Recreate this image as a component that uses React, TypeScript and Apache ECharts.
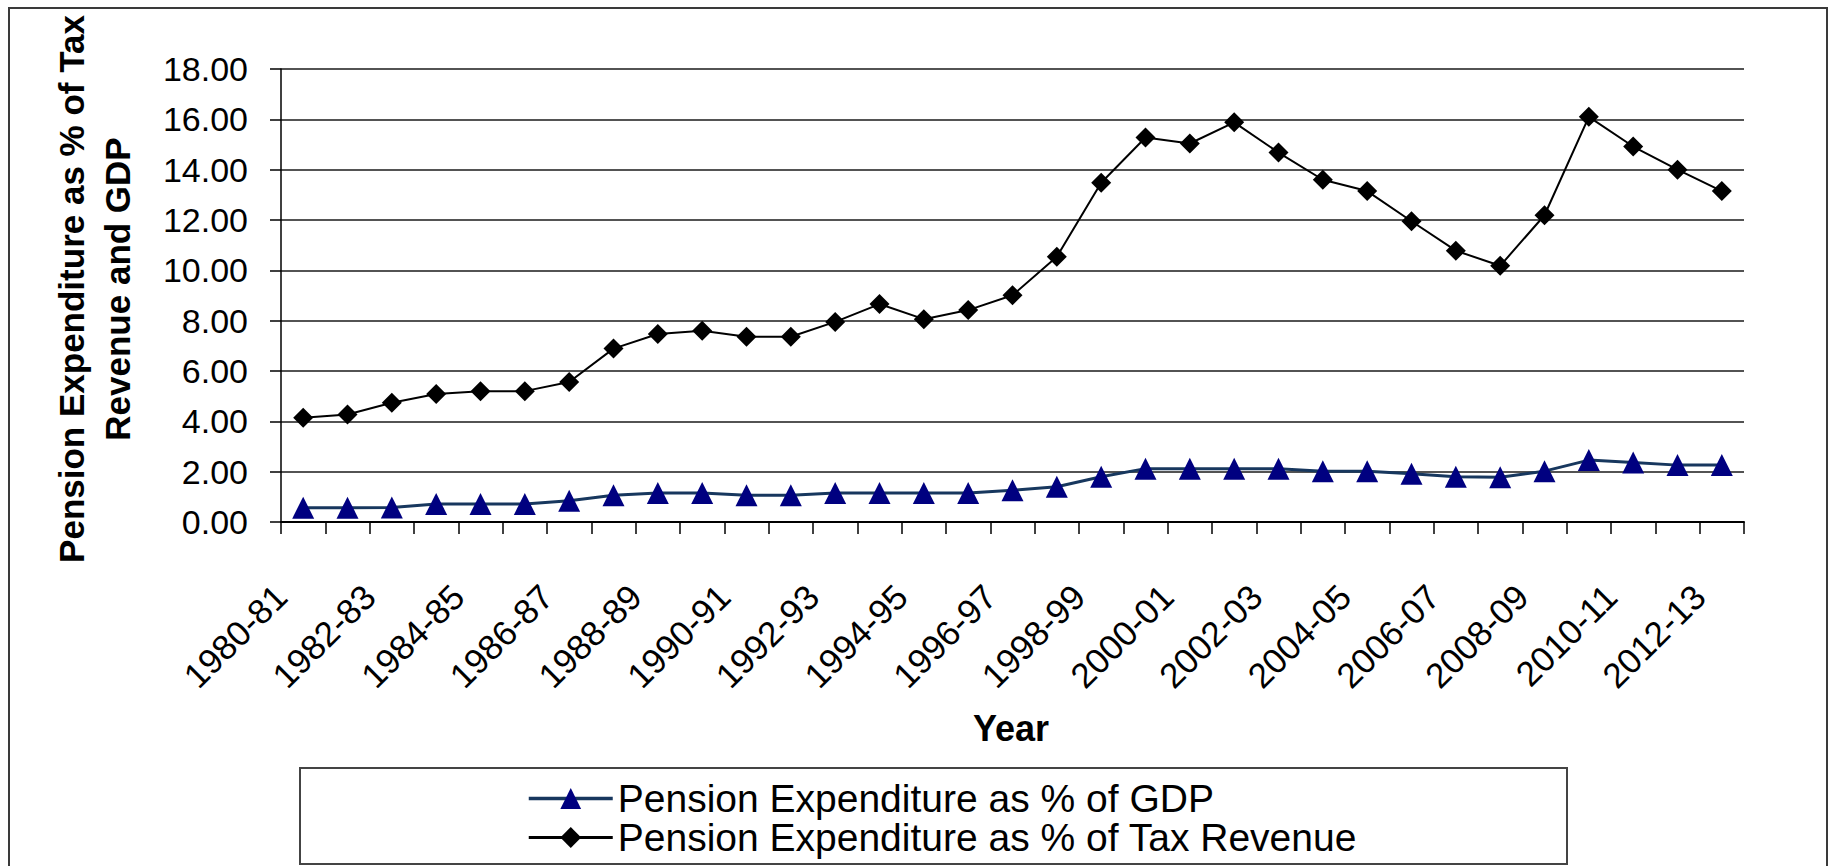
import React, { useEffect, useRef } from "react";
import * as echarts from "echarts";

const years = [
  "1980-81", "1981-82", "1982-83", "1983-84", "1984-85", "1985-86", "1986-87",
  "1987-88", "1988-89", "1989-90", "1990-91", "1991-92", "1992-93", "1993-94",
  "1994-95", "1995-96", "1996-97", "1997-98", "1998-99", "1999-00", "2000-01",
  "2001-02", "2002-03", "2003-04", "2004-05", "2005-06", "2006-07", "2007-08",
  "2008-09", "2009-10", "2010-11", "2011-12", "2012-13",
];

const gdpPct = [
  0.57, 0.57, 0.58, 0.72, 0.72, 0.72, 0.84, 1.06, 1.15, 1.15, 1.06, 1.06,
  1.15, 1.15, 1.15, 1.15, 1.26, 1.4, 1.8, 2.12, 2.12, 2.12, 2.12, 2.02,
  2.02, 1.92, 1.8, 1.78, 2.02, 2.46, 2.36, 2.26, 2.26,
];

const taxPct = [
  4.14, 4.27, 4.74, 5.09, 5.2, 5.2, 5.56, 6.89, 7.47, 7.6, 7.36, 7.36,
  7.95, 8.66, 8.06, 8.42, 9.01, 10.54, 13.48, 15.28, 15.04, 15.88, 14.68, 13.6,
  13.15, 11.95, 10.78, 10.18, 12.19, 16.1, 14.92, 14.0, 13.15,
];

const seriesNames = [
  "Pension Expenditure as % of GDP",
  "Pension Expenditure as % of Tax Revenue",
];

const yTitle = "Pension Expenditure as % of Tax\nRevenue and GDP";
const xTitle = "Year";

const FONT = "'Liberation Sans', Arial, Helvetica, sans-serif";

export default function App() {
  const ref = useRef<HTMLDivElement>(null);

  useEffect(() => {
    if (!ref.current) return;
    const chart = echarts.init(ref.current, null, { renderer: "svg" });
    chart.setOption({
      animation: false,
      backgroundColor: "#ffffff",
      textStyle: { fontFamily: FONT },
      grid: { left: 281, top: 69, width: 1463, height: 453, containLabel: false },
      xAxis: {
        type: "category",
        data: years,
        boundaryGap: true,
        axisLine: { lineStyle: { color: "#000", width: 2 } },
        axisTick: { show: true, interval: 0, length: 12, lineStyle: { color: "#000", width: 1.5 } },
        axisLabel: {
          interval: 1,
          rotate: 45,
          margin: 46,
          padding: [0, 32, 0, 0],
          fontSize: 35,
          color: "#000",
          fontFamily: FONT,
        },
        splitLine: { show: false },
      },
      yAxis: {
        type: "value",
        min: 0,
        max: 18,
        interval: 2,
        axisLine: { show: true, lineStyle: { color: "#000", width: 1.5 } },
        axisTick: { show: true, length: 11, lineStyle: { color: "#000", width: 1.5 } },
        axisLabel: {
          margin: 33,
          fontSize: 34,
          color: "#000",
          fontFamily: FONT,
          formatter: (v: number) => v.toFixed(2),
        },
        splitLine: { show: true, lineStyle: { color: "#1a1a1a", width: 1.5 } },
      },
      legend: {
        orient: "vertical",
        left: 527,
        top: 779,
        itemWidth: 84,
        itemHeight: 26,
        itemGap: 0,
        padding: 0,
        data: [
          { name: seriesNames[0], lineStyle: { width: 3.5, color: "#17375e" } },
          { name: seriesNames[1], lineStyle: { width: 3, color: "#000" } },
        ],
        textStyle: { fontSize: 39, lineHeight: 39, color: "#000", fontFamily: FONT },
      },
      series: [
        {
          name: seriesNames[0],
          type: "line",
          data: gdpPct,
          symbol: "triangle",
          symbolSize: 22,
          lineStyle: { color: "#17375e", width: 3 },
          itemStyle: { color: "#000080" },
          z: 3,
        },
        {
          name: seriesNames[1],
          type: "line",
          data: taxPct,
          symbol: "diamond",
          symbolSize: 20,
          lineStyle: { color: "#000", width: 2 },
          itemStyle: { color: "#000" },
          z: 4,
        },
      ],
      graphic: [
        {
          type: "rect",
          shape: { x: 9, y: 8, width: 1818, height: 900 },
          style: { fill: "none", stroke: "#3a3a3a", lineWidth: 2 },
          silent: true,
        },
        {
          type: "rect",
          shape: { x: 300, y: 768, width: 1267, height: 96 },
          style: { fill: "none", stroke: "#444", lineWidth: 2 },
          silent: true,
        },
        {
          type: "text",
          x: 94,
          y: 289,
          rotation: Math.PI / 2,
          style: {
            text: yTitle,
            fill: "#000",
            font: `bold 35px ${FONT}`,
            fontSize: 35,
            fontWeight: "bold",
            fontFamily: FONT,
            lineHeight: 46,
            align: "center",
            verticalAlign: "middle",
            textAlign: "center",
            textVerticalAlign: "middle",
          },
        },
        {
          type: "text",
          x: 1011,
          y: 728,
          style: {
            text: xTitle,
            fill: "#000",
            font: `bold 36px ${FONT}`,
            fontSize: 36,
            fontWeight: "bold",
            fontFamily: FONT,
            align: "center",
            verticalAlign: "middle",
            textAlign: "center",
            textVerticalAlign: "middle",
          },
        },
      ],
    });
    return () => chart.dispose();
  }, []);

  return (
    <div
      ref={ref}
      style={{ position: "absolute", left: 0, top: 0, width: 1833, height: 866, background: "#fff" }}
    />
  );
}
